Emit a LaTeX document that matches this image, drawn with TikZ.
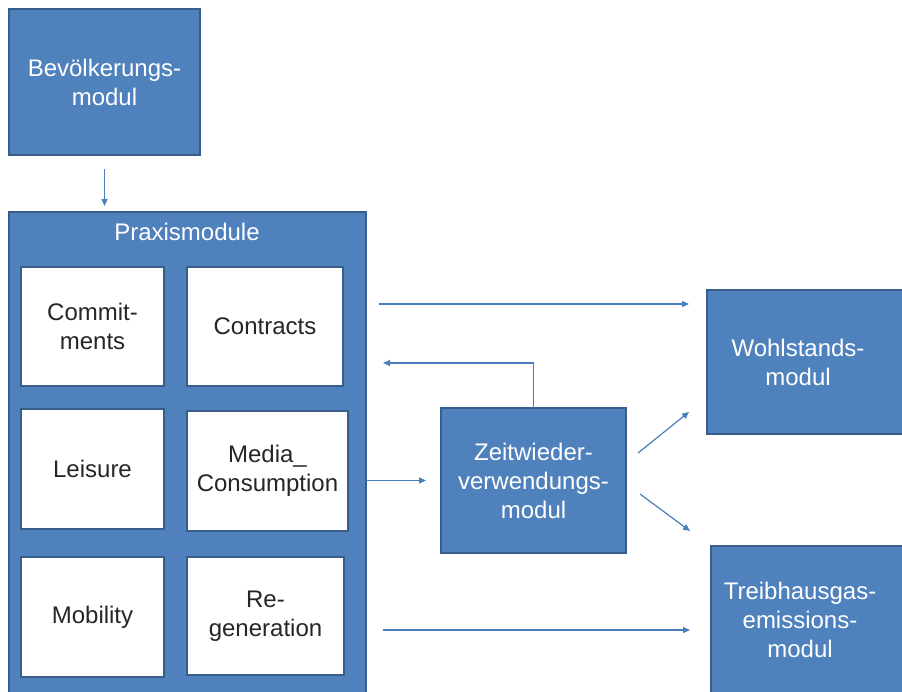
\documentclass[tikz,border=0pt]{standalone}
\usepackage{fontspec}
\setmainfont{Liberation Sans}
\usetikzlibrary{arrows.meta}
\definecolor{modulblau}{HTML}{4F81BD}
\definecolor{randblau}{HTML}{385D8A}
\definecolor{pfeilblau}{HTML}{4A7EBB}

\begin{document}
\begin{tikzpicture}[
  modul/.style={draw=randblau, line width=1.6pt, fill=modulblau, text=white, align=center,
    inner sep=0pt, outer sep=0pt, anchor=north west, font=\fontsize{24}{29}\selectfont},
  praxis/.style={draw=randblau, line width=1.6pt, fill=white, text=black!85, align=center,
    inner sep=0pt, outer sep=0pt, anchor=north west, font=\fontsize{24}{29}\selectfont},
  schrift/.style={text=white, align=center, font=\fontsize{24}{29}\selectfont},
  pfeil/.style={pfeilblau, line width=1.2pt, ->, >={Triangle[length=7pt,width=6pt]}}
]
\begin{scope}[x=1pt,y=-1pt]
\useasboundingbox (0,0) rectangle (902,691);
\fill[white] (0,0) rectangle (902,691);
\coordinate (y1) at (0,304);
\coordinate (y2) at (0,363);
\coordinate (y4) at (0,630);

\node[modul, minimum width=191, minimum height=146] (bev) at (9,9) {Bevölkerungs-\\modul};
\node[modul, minimum width=357, minimum height=490] (praxis) at (9,212) {};
\node[schrift] (titel) at (187,232) {Praxismodule};

\node[praxis, minimum width=143, minimum height=119] (commit) at (21,267) {Commit-\\ments};
\node[praxis, minimum width=156, minimum height=119] (contracts) at (187,267) {Contracts};
\node[praxis, minimum width=143, minimum height=120] (leisure) at (21,409) {Leisure};
\node[praxis, minimum width=161, minimum height=120] (media) at (187,411) {Media\_\\Consumption};
\node[praxis, minimum width=143, minimum height=120] (mobility) at (21,557) {Mobility};
\node[praxis, minimum width=157, minimum height=118] (regen) at (187,557) {Re-\\generation};

\node[modul, minimum width=185, minimum height=145] (zeit) at (441,408) {Zeitwieder-\\verwendungs-\\modul};
\node[modul, minimum width=220, minimum height=144] (wohl) at (707,290) {};
\node[schrift] (wohltext) at (798,362) {Wohlstands-\\modul};
\node[modul, minimum width=220, minimum height=150] (treib) at (711,546) {};
\node[schrift] (treibtext) at (800,620) {Treibhausgas-\\emissions-\\modul};

\draw[pfeil, shorten <=14pt, shorten >=6pt] (bev.south) -- (bev.south |- praxis.north);
\draw[pfeil, shorten <=13pt, shorten >=18pt] (praxis.east |- y1) -- (wohl.west |- y1);
\draw[pfeil, shorten >=17pt] (zeit.north) -- (zeit.north |- y2) -- (praxis.east |- y2);
\draw[pfeil, shorten >=15pt] (praxis.east |- zeit.west) -- (zeit.west);
\draw[pfeil] ([xshift=12pt,yshift=27.5pt]zeit.east) -- ([xshift=-18pt,yshift=22pt]wohl.south west);
\draw[pfeil] ([xshift=14pt,yshift=-13.5pt]zeit.east) -- ([xshift=-21pt,yshift=15pt]treib.north west);
\draw[pfeil, shorten <=17pt, shorten >=21pt] (praxis.east |- y4) -- (treib.west |- y4);
\end{scope}
\end{tikzpicture}
\end{document}
